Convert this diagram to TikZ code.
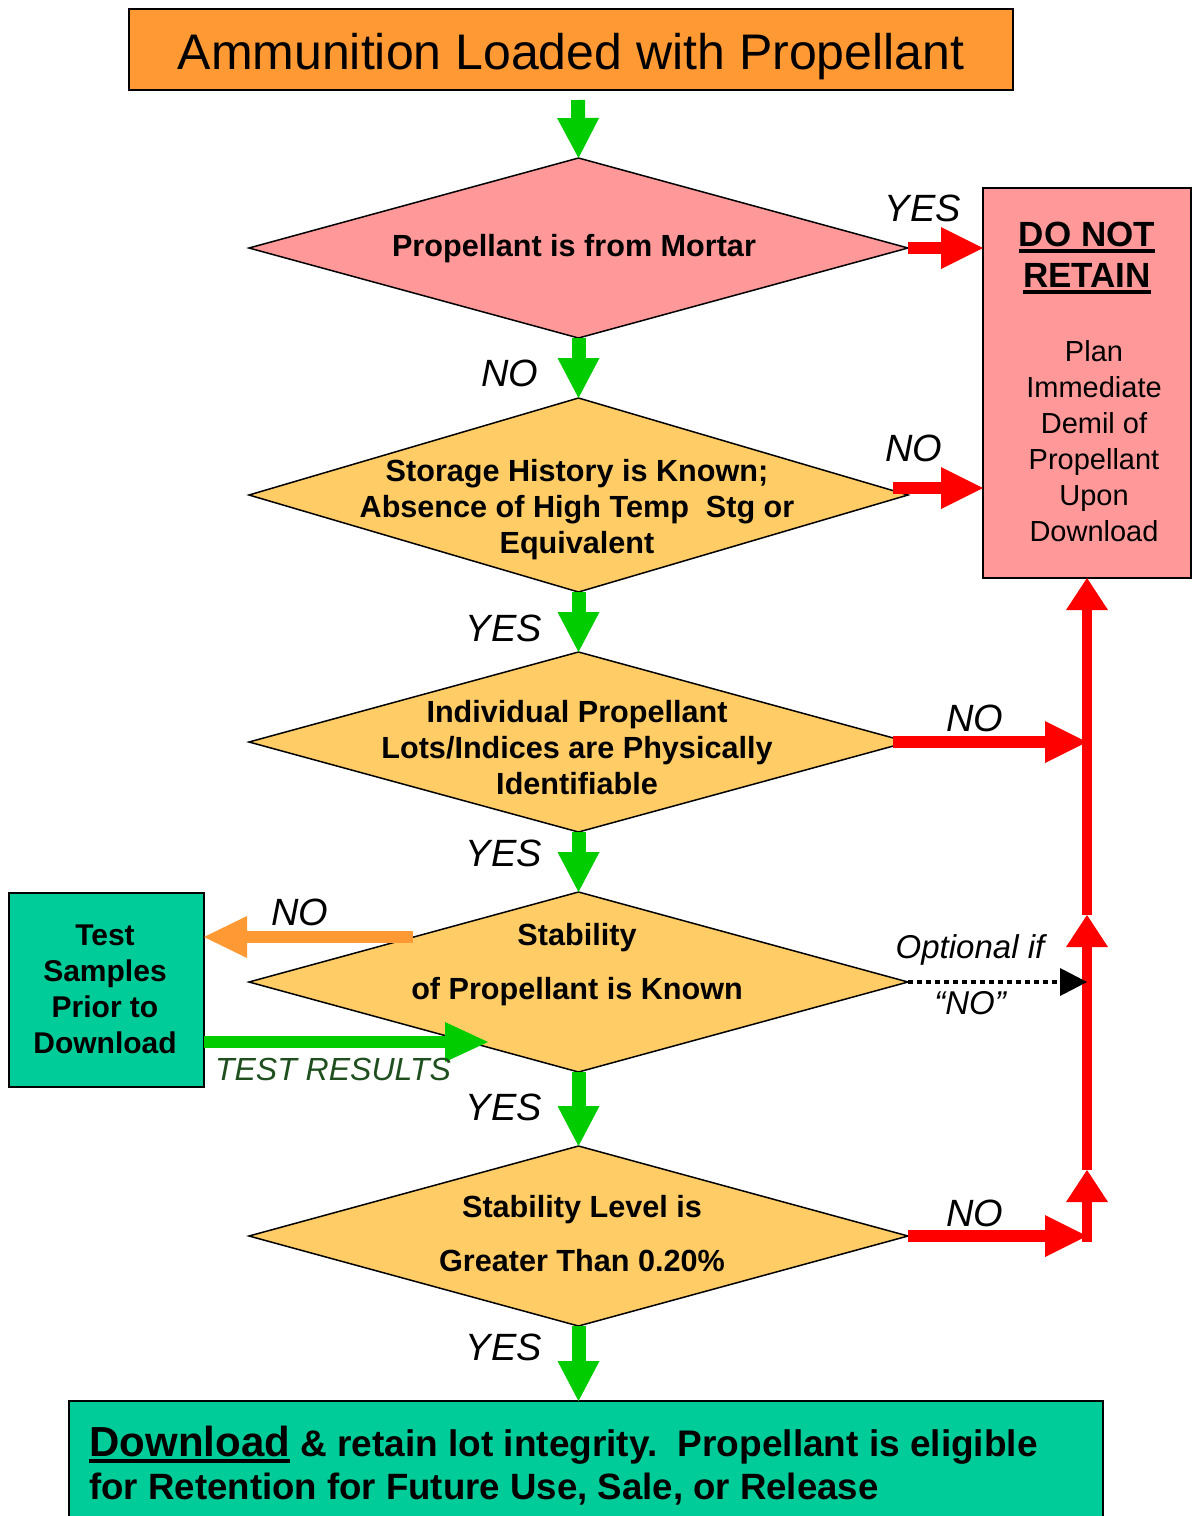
\documentclass[tikz,border=0pt]{standalone}
\usepackage{fontspec}
\setmainfont{Liberation Sans}
\usetikzlibrary{arrows.meta,shapes.geometric}
\definecolor{titleor}{HTML}{FF9933}
\definecolor{pinkf}{HTML}{FF9999}
\definecolor{yelf}{HTML}{FFCC66}
\definecolor{tealf}{HTML}{00CC99}
\definecolor{grA}{HTML}{00CC00}
\definecolor{rdA}{HTML}{FF0000}
\definecolor{dkgr}{HTML}{1F4F1F}
\newcommand\myul[2][0.09em]{\setbox0\hbox{#2}\rlap{\rule[-0.16em]{\wd0}{#1}}\box0}
\tikzset{
  boxn/.style={draw=black, line width=1pt, inner sep=0pt, outer sep=0pt},
  dia/.style={diamond, draw=black, line width=0.75pt, inner sep=0pt, outer sep=0pt, minimum width=329.5pt},
  dtext/.style={font=\bfseries\fontsize{15.3}{18}\selectfont, align=center, inner sep=0pt},
  lab/.style={font=\itshape\fontsize{19}{22}\selectfont, inner sep=0pt},
  gar/.style={draw=grA, line width=7pt, -{Triangle[width=21pt,length=20pt,line width=0pt]}},
  gar2/.style={draw=grA, line width=6pt, -{Triangle[width=20pt,length=21.5pt,line width=0pt]}},
  rar/.style={draw=rdA, line width=6pt, -{Triangle[width=21pt,length=21pt,line width=0pt]}},
  rvar/.style={draw=rdA, line width=5pt, -{Triangle[width=21pt,length=16pt,line width=0pt]}},
  oar/.style={draw=titleor, line width=6pt, -{Triangle[width=21pt,length=21.5pt,line width=0pt]}},
  dotar/.style={draw=black, line width=2pt, dash pattern=on 2.25pt off 2.25pt, -{Triangle[width=14pt,length=13.5pt,line width=0pt]}}
}
\begin{document}
\begin{tikzpicture}[x=0.5pt,y=-0.5pt]
\useasboundingbox (0,0) rectangle (1192,1516);
\clip (0,0) rectangle (1192,1516);
% boxes
\node[boxn, fill=titleor, minimum width=442pt, minimum height=40.5pt, text height=20pt, text depth=0pt, font=\fontsize{25}{30}\selectfont] (title) at (571,49.5) {Ammunition Loaded with Propellant};
\node[boxn, fill=pinkf, minimum width=104pt, minimum height=195pt] (dnr) at (1087,383) {};
\node[boxn, fill=tealf, minimum width=97.5pt, minimum height=97pt] (test) at (106.5,990) {};
\node[boxn, fill=tealf, minimum width=517pt, minimum height=70pt, anchor=north] (bot) at (586,1401) {};
% diamonds
\node[dia, fill=pinkf, minimum height=90pt] (d1) at (578.5,248) {};
\node[dia, fill=yelf, minimum height=97pt] (d2) at (578.5,495) {};
\node[dia, fill=yelf, minimum height=90pt] (d3) at (578.5,742) {};
\node[dia, fill=yelf, minimum height=90pt] (d4) at (578.5,982) {};
\node[dia, fill=yelf, minimum height=90pt] (d5) at (578.5,1236) {};
% coordinates
\coordinate (t1c) at (578,100);
\coordinate (r2) at (893,488);
\coordinate (r3) at (893,742);
\coordinate (j3) at (1087,742);
\coordinate (j4) at (1087,982);
\coordinate (j5) at (1087,1236);
\coordinate (m1) at (1087,1170);
\coordinate (m2) at (1087,915);
\coordinate (o1) at (413,937);
\coordinate (tr) at (488,1042);
% green flow arrows
\draw[gar] (t1c) -- (d1.north);
\draw[gar] (d1.south) -- (d2.north);
\draw[gar] (d2.south) -- (d3.north);
\draw[gar] (d3.south) -- (d4.north);
\draw[gar] (d4.south) -- (d5.north);
\draw[gar] (d5.south) -- (d5.south |- bot.north);
% red arrows
\draw[rar] (d1.east) -- (dnr.west |- d1.east);
\draw[rar] (r2) -- (dnr.west |- r2);
\draw[rar] (r3) -- (j3);
\draw[rar] (d5.east) -- (j5);
\draw[rvar] ([yshift=-3pt]j5) -- (m1);
\draw[rvar] (m1) -- (m2);
\draw[rvar] (m2) -- (dnr.south);
% dotted
\draw[dotar] (d4.east) -- (j4);
% orange and test results
\draw[oar] (o1) -- (o1 -| test.east);
\draw[gar2] (tr -| test.east) -- (tr);
% texts
\node[dtext] (t1) at (574,249) {Propellant is from Mortar};
\node[dtext] (t2) at (577,510) {Storage History is Known;\\Absence of High Temp\ \ Stg or\\Equivalent};
\node[dtext] (t3) at (577,748) {Individual Propellant\\Lots/Indices are Physically\\Identifiable};
\node[dtext] (t4) at (577,965) {Stability\\[9pt]of Propellant is Known};
\node[dtext] (t5) at (582,1234) {Stability Level is\\[9pt]Greater Than 0.20\%};
\node[font=\bfseries\fontsize{17.5}{20.5}\selectfont, align=center, inner sep=0pt] (dnrt) at (1087,258) {\myul{DO NOT}\\\myul{RETAIN}};
\node[font=\fontsize{14.5}{18}\selectfont, align=center, inner sep=0pt] (dnrb) at (1094,441) {Plan\\Immediate\\Demil of\\Propellant\\Upon\\Download};
\node[font=\bfseries\fontsize{15}{18}\selectfont, align=center, inner sep=0pt] (testt) at (105,989) {Test\\Samples\\Prior to\\Download};
\node[anchor=base west, font=\bfseries\fontsize{18.5}{21}\selectfont, inner sep=0pt] (bt1) at (89,1456) {{\fontsize{21}{25}\selectfont\myul{Download}} \& retain lot integrity.\ \ Propellant is eligible};
\node[anchor=base west, font=\bfseries\fontsize{18.3}{21}\selectfont, inner sep=0pt] (bt2) at (89,1499) {for Retention for Future Use, Sale, or Release};
% labels
\node[lab] (l1) at (923,208) {YES};
\node[lab] (l2) at (510,373) {NO};
\node[lab] (l3) at (914,448) {NO};
\node[lab] (l4) at (504,628) {YES};
\node[lab] (l5) at (975,718) {NO};
\node[lab] (l6) at (504,853) {YES};
\node[lab] (l7) at (300,912) {NO};
\node[lab] (l8) at (504,1107) {YES};
\node[lab] (l9) at (975,1213) {NO};
\node[lab] (l10) at (504,1347) {YES};
\node[font=\itshape\fontsize{16.5}{18}\selectfont, inner sep=0pt] (opt1) at (970,950) {Optional if};
\node[font=\itshape\fontsize{16.5}{18}\selectfont, inner sep=0pt] (opt2) at (970,1003) {“NO”};
\node[font=\itshape\fontsize{16}{18}\selectfont, text=dkgr, inner sep=0pt] (trt) at (333,1069) {TEST RESULTS};
\end{tikzpicture}
\end{document}
